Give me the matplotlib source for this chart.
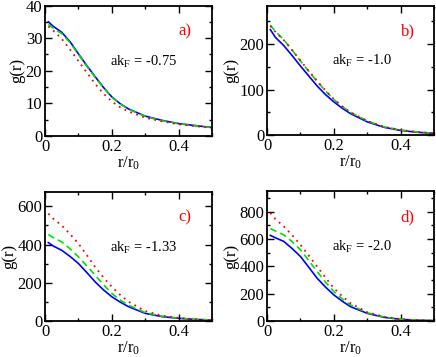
import matplotlib
matplotlib.use("Agg")
import matplotlib.pyplot as plt
from matplotlib.ticker import MultipleLocator

plt.rcParams['font.family'] = ['Liberation Serif', 'DejaVu Serif']
plt.rcParams['mathtext.fontset'] = 'custom'
plt.rcParams['mathtext.rm'] = 'Liberation Serif'
plt.rcParams['mathtext.it'] = 'Liberation Serif'

r = [0.01, 0.025, 0.05, 0.075, 0.1, 0.125, 0.15, 0.175, 0.2, 0.225, 0.25, 0.3, 0.35, 0.4, 0.45, 0.5]

a_blue = [35.0, 33.6, 31.8, 28.9, 25.2, 21.6, 18.2, 14.9, 12.0, 9.9, 8.3, 6.1, 4.8, 3.8, 3.2, 2.6]
a_green = [34.2, 33.0, 31.4, 28.6, 25.0, 21.4, 18.0, 14.8, 11.9, 9.8, 8.2, 6.0, 4.7, 3.8, 3.1, 2.6]
a_red = [33.6, 32.3, 29.8, 26.5, 23.0, 19.5, 16.0, 13.0, 10.6, 8.8, 7.5, 5.6, 4.5, 3.6, 3.0, 2.5]

b_blue = [232, 215, 197, 175, 152, 130, 108, 89, 73, 59, 47, 29, 17, 10, 6, 3.5]
b_green = [242, 228, 210, 187, 163, 140, 118, 97, 78, 63, 50, 31, 18, 11, 6.5, 4]
b_red = [240, 227, 209, 187, 164, 141, 119, 98, 79, 63, 50, 31, 18, 11, 6.5, 4]

c_blue = [410, 392, 370, 338, 301, 254, 205, 163, 127, 99, 75, 40, 23, 14, 8, 5]
c_green = [452, 436, 414, 378, 336, 288, 240, 190, 144, 110, 83, 44, 25, 15, 9, 5]
c_red = [562, 535, 500, 455, 405, 345, 283, 228, 179, 137, 101, 52, 28, 16, 9, 5]

d_blue = [626, 608, 582, 530, 472, 393, 313, 248, 191, 145, 105, 56, 27, 12, 6, 3]
d_green = [675, 658, 630, 580, 520, 442, 362, 285, 215, 162, 117, 60, 29, 13, 6, 3]
d_red = [790, 745, 692, 628, 557, 478, 398, 318, 240, 182, 130, 64, 31, 14, 6, 3]

labels = ['a)', 'b)', 'c)', 'd)']
akf = ['-0.75', '-1.0', '-1.33', '-2.0']
ylims = [40, 285, 675, 950]
ymaj = [10, 100, 200, 200]
ymin = [5, 50, 100, 100]
data = [(a_blue, a_green, a_red), (b_blue, b_green, b_red),
        (c_blue, c_green, c_red), (d_blue, d_green, d_red)]

W, H = 436, 357
fig = plt.figure(figsize=(W / 100, H / 100), dpi=100)
boxes = [(45, 5.5, 212, 136), (267, 5.5, 434, 135),
         (45, 192, 212, 321), (267, 191, 434, 321)]

for i, (x0, y0, x1, y1) in enumerate(boxes):
    ax = fig.add_axes([x0 / W, 1 - y1 / H, (x1 - x0) / W, (y1 - y0) / H])
    blue, green, red = data[i]
    ax.plot(r, blue, color='#0000ff', lw=1.2, ls='-')
    ax.plot(r, green, color='#00e000', lw=1.2, ls=(0, (4, 2.5)))
    ax.plot(r, red, color='#ff0000', lw=1.3, ls=(0, (1, 2.5)))
    ax.set_xlim(0, 0.5)
    ax.set_ylim(0, ylims[i])
    ax.xaxis.set_major_locator(MultipleLocator(0.2))
    ax.xaxis.set_minor_locator(MultipleLocator(0.1))
    ax.yaxis.set_major_locator(MultipleLocator(ymaj[i]))
    ax.yaxis.set_minor_locator(MultipleLocator(ymin[i]))
    ax.tick_params(which='both', direction='in', top=True, right=True,
                   labelsize=12, width=1.0, pad=2)
    ax.tick_params(which='major', length=5)
    ax.tick_params(which='minor', length=2.5)
    ax.set_xticks([0, 0.2, 0.4])
    ax.set_xticklabels(['0', '0.2', '0.4'])
    for s in ax.spines.values():
        s.set_linewidth(1.3)
    ax.set_xlabel(r'r/r$_0$', fontsize=12, labelpad=0)
    ax.set_ylabel('g(r)', fontsize=12, labelpad=0)
    ax.text(0.39, 0.57, r'ak$_F$ = ' + akf[i], transform=ax.transAxes,
            fontsize=10.5, va='center', ha='left')
    ax.text(0.80, 0.80, labels[i], transform=ax.transAxes, fontsize=12,
            color='#ff0000', va='center', ha='left')

fig.savefig('out.png', dpi=100)
